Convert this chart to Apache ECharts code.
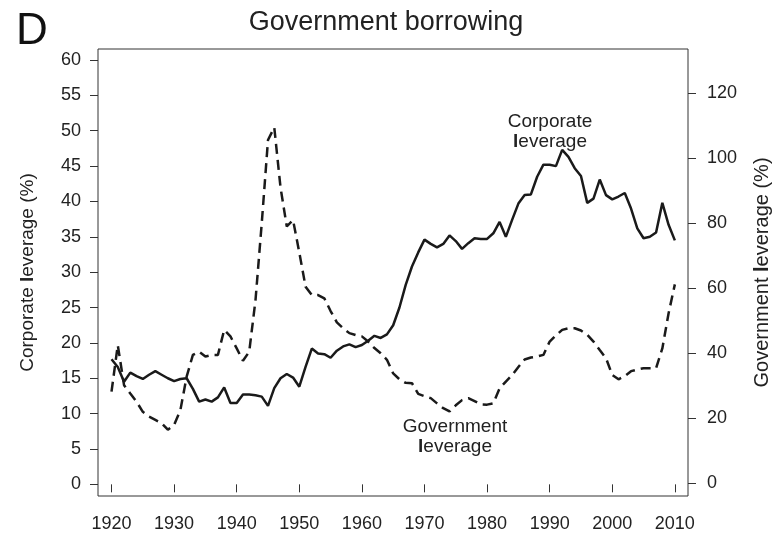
<!DOCTYPE html>
<html>
<head>
<meta charset="utf-8">
<script src="https://cdn.jsdelivr.net/npm/echarts@6/dist/echarts.min.js"></script>
<style>
  html, body { margin: 0; padding: 0; background: #fff; }
  #chart { width: 780px; height: 533px; }
</style>
</head>
<body>
<div id="chart"></div>
<script>
const startYear = 1920
const endYear = 2010

// corporate leverage (%), left axis, 1920..2010
const corporate = [
  17.7, 16.6, 14.5, 15.8, 15.3, 14.9, 15.5, 16.0, 15.5, 15.0,
  14.6, 14.9, 15.0, 13.5, 11.7, 12.0, 11.7, 12.3, 13.7, 11.5,
  11.5, 12.7, 12.7, 12.6, 12.4, 11.1, 13.6, 15.0, 15.6, 15.1,
  13.8, 16.6, 19.2, 18.5, 18.4, 17.9, 18.9, 19.5, 19.8, 19.4,
  19.7, 20.3, 21.0, 20.7, 21.2, 22.5, 25.0, 28.2, 30.8, 32.8,
  34.6, 34.0, 33.5, 34.0, 35.2, 34.4, 33.3, 34.1, 34.8, 34.7,
  34.7, 35.5, 37.1, 35.0, 37.4, 39.7, 40.9, 41.0, 43.5, 45.2,
  45.2, 45.0, 47.3, 46.3, 44.7, 43.6, 39.8, 40.4, 43.1, 40.9,
  40.3, 40.7, 41.2, 39.0, 36.2, 34.8, 35.0, 35.6, 39.8, 36.7,
  34.5
]

// government leverage (%), right axis, 1920..2010
const government = [
  28.2, 42.5, 30.2, 27.6, 25.1, 22.0, 20.5, 19.5, 18.5, 16.5,
  18.0, 22.5, 32.8, 39.5, 40.5, 39.0, 39.5, 39.5, 47.2, 45.2,
  41.5, 37.7, 40.5, 56.3, 80.0, 105.6, 109.5, 91.0, 79.0, 81.0,
  71.0, 60.5, 57.9, 57.9, 56.9, 53.0, 49.5, 47.7, 46.2, 45.6,
  45.2, 43.6, 41.6, 40.0, 38.0, 33.8, 32.0, 30.9, 30.8, 27.5,
  26.8, 26.2, 24.6, 23.1, 22.1, 24.0, 25.6, 26.2, 25.3, 24.3,
  24.2, 24.6, 29.2, 31.3, 33.3, 35.8, 38.1, 38.7, 39.0, 39.5,
  43.6, 45.5, 47.2, 47.7, 47.7, 47.0, 45.7, 43.6, 41.0, 38.5,
  33.3, 32.0, 33.0, 34.5, 35.0, 35.4, 35.4, 35.4, 41.5, 52.3,
  61.2
]

const xTicks = [1920, 1930, 1940, 1950, 1960, 1970, 1980, 1990, 2000, 2010]
const leftTicks = [0, 5, 10, 15, 20, 25, 30, 35, 40, 45, 50, 55, 60]
const rightTicks = [0, 20, 40, 60, 80, 100, 120]

const years = []
for (let y = startYear; y <= endYear; y++) years.push(y)

const ink = '#1a1a1a'
const font = 'Liberation Sans, Arial, Helvetica, sans-serif'

const chart = echarts.init(document.getElementById('chart'))

const axisCommon = {
  axisLine: { show: false },
  splitLine: { show: false },
  axisTick: { show: true, inside: false, length: 8, lineStyle: { color: '#333', width: 1 } },
  axisLabel: { color: '#222', fontSize: 18, fontFamily: font }
}

const opt = {
  animation: false,
  backgroundColor: '#fff',
  graphic: [
    { type: 'text', x: 16, y: 32, style: { text: 'D', font: '44px ' + font, fill: '#111', verticalAlign: 'middle' } },
    { type: 'text', x: 386, y: 23, style: { text: 'Government borrowing', font: '27px ' + font, fill: '#222', align: 'center', verticalAlign: 'middle' } },
    { type: 'text', x: 550, y: 122, style: { text: 'Corporate', font: '19px ' + font, fill: '#222', align: 'center', verticalAlign: 'middle' } },
    { type: 'text', x: 550, y: 142, style: { text: '{b|l}everage', font: '19px ' + font, fill: '#222', align: 'center', verticalAlign: 'middle', rich: { b: { fontWeight: 'bold', fontSize: 19, fontFamily: font } } } },
    { type: 'text', x: 455, y: 427, style: { text: 'Government', font: '19px ' + font, fill: '#222', align: 'center', verticalAlign: 'middle' } },
    { type: 'text', x: 455, y: 447, style: { text: '{b|l}everage', font: '19px ' + font, fill: '#222', align: 'center', verticalAlign: 'middle', rich: { b: { fontWeight: 'bold', fontSize: 19, fontFamily: font } } } }
  ],
  grid: {
    left: 98,
    right: 92,
    top: 49,
    bottom: 37,
    show: true,
    borderColor: '#333',
    borderWidth: 1
  },
  xAxis: {
    type: 'value',
    min: 1917.84,
    max: 2012.1,
    ...axisCommon,
    axisTick: { ...axisCommon.axisTick, customValues: xTicks },
    axisLabel: { ...axisCommon.axisLabel, margin: 19, customValues: xTicks, formatter: v => String(v) }
  },
  yAxis: [
    {
      type: 'value',
      position: 'left',
      min: -1.65,
      max: 61.56,
      ...axisCommon,
      axisTick: { ...axisCommon.axisTick, customValues: leftTicks },
      axisLabel: { ...axisCommon.axisLabel, margin: 17, customValues: leftTicks },
      name: 'Corporate {b|l}everage (%)',
      nameLocation: 'middle',
      nameRotate: 90,
      nameGap: 61,
      nameTextStyle: { fontFamily: font, fontSize: 19, color: '#222', rich: { b: { fontWeight: 'bold', fontSize: 19, fontFamily: font, color: '#222' } } }
    },
    {
      type: 'value',
      position: 'right',
      min: -3.9,
      max: 133.6,
      ...axisCommon,
      axisTick: { ...axisCommon.axisTick, customValues: rightTicks },
      axisLabel: { ...axisCommon.axisLabel, margin: 19, customValues: rightTicks },
      name: 'Government {b|l}everage (%)',
      nameLocation: 'middle',
      nameRotate: 90,
      nameGap: 64,
      nameTextStyle: { fontFamily: font, fontSize: 20, color: '#222', rich: { b: { fontWeight: 'bold', fontSize: 20, fontFamily: font, color: '#222' } } }
    }
  ],
  series: [
    {
      name: 'Corporate leverage',
      type: 'line',
      yAxisIndex: 0,
      showSymbol: false,
      data: years.map((y, i) => [y, corporate[i]]),
      lineStyle: { color: ink, width: 2.5, type: 'solid' },
      itemStyle: { color: ink }
    },
    {
      name: 'Government leverage',
      type: 'line',
      yAxisIndex: 1,
      showSymbol: false,
      data: years.map((y, i) => [y, government[i]]),
      lineStyle: { color: ink, width: 2.5, type: [10, 6] },
      itemStyle: { color: ink }
    }
  ]
}

chart.setOption(opt)
</script>
</body>
</html>
